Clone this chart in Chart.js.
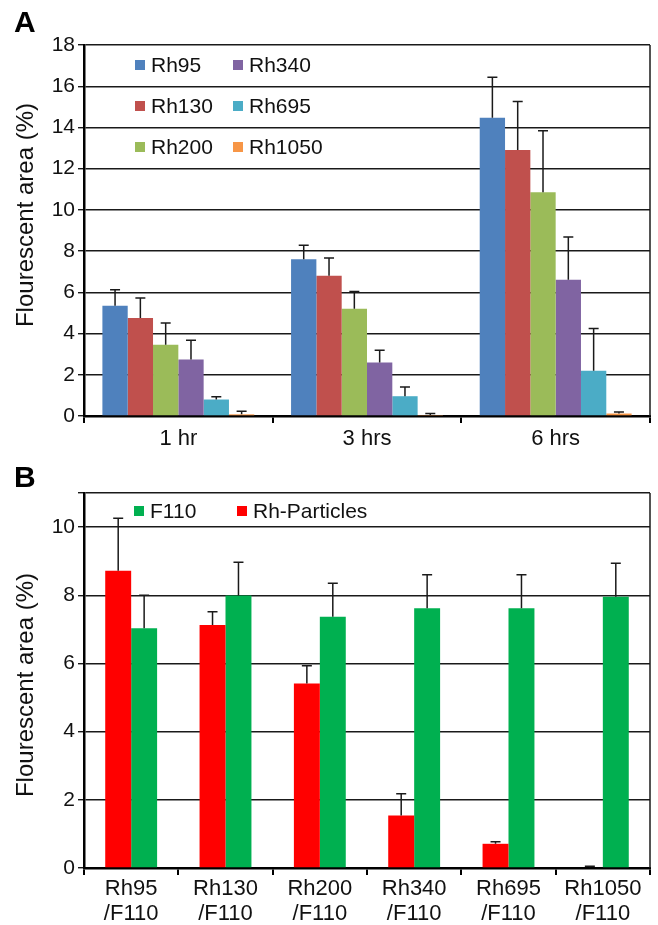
<!DOCTYPE html>
<html>
<head>
<meta charset="utf-8">
<script src="https://cdn.jsdelivr.net/npm/chart.js@4.4.1/dist/chart.umd.min.js"></script>
<style>
  html, body { margin: 0; padding: 0; background: #fff; }
  #wrap { width: 658px; height: 925px; position: relative; }
  canvas { display: block; }
  #chartB { margin-top: 1px; }
</style>
</head>
<body>
<div id="wrap">
  <canvas id="chartA" width="658" height="462"></canvas>
  <canvas id="chartB" width="658" height="462"></canvas>
</div>
<script>
// ---- panel A data ----
const timeLabels = ['1 hr', '3 hrs', '6 hrs'];
const rh95 = [5.35, 7.6, 14.47];
const rh95Err = [0.78, 0.69, 1.97];
const rh130 = [4.75, 6.8, 12.9];
const rh130Err = [0.97, 0.86, 2.36];
const rh200 = [3.46, 5.2, 10.86];
const rh200Err = [1.05, 0.84, 2.98];
const rh340 = [2.74, 2.6, 6.61];
const rh340Err = [0.93, 0.59, 2.07];
const rh695 = [0.8, 0.96, 2.2];
const rh695Err = [0.14, 0.45, 2.04];
const rh1050 = [0.08, 0.05, 0.12];
const rh1050Err = [0.15, 0.07, 0.08];
const ticksA = [0, 2, 4, 6, 8, 10, 12, 14, 16, 18];

// ---- panel B data ----
const pairLabels = [['Rh95', '/F110'], ['Rh130', '/F110'], ['Rh200', '/F110'], ['Rh340', '/F110'], ['Rh695', '/F110'], ['Rh1050', '/F110']];
const rhParticles = [8.72, 7.13, 5.41, 1.54, 0.71, 0.02];
const rhParticlesErr = [1.54, 0.39, 0.52, 0.64, 0.06, 0.03];
const f110 = [7.03, 7.99, 7.37, 7.62, 7.62, 7.96];
const f110Err = [0.97, 0.98, 0.98, 0.98, 0.98, 0.98];
const ticksB = [0, 2, 4, 6, 8, 10];

const FONT = '"Liberation Sans", Arial, Helvetica, sans-serif';

// one-sided error bars on top of each bar
const errorBars = {
  id: 'errorBars',
  afterDatasetsDraw(chart) {
    const ctx = chart.ctx;
    const yScale = chart.scales.y;
    ctx.save();
    ctx.strokeStyle = '#1a1a1a';
    ctx.lineWidth = 1.5;
    chart.data.datasets.forEach((ds, di) => {
      if (!ds.errors) return;
      chart.getDatasetMeta(di).data.forEach((bar, i) => {
        const top = yScale.getPixelForValue(ds.data[i] + ds.errors[i]);
        ctx.beginPath();
        ctx.moveTo(bar.x, bar.y);
        ctx.lineTo(bar.x, top);
        ctx.moveTo(bar.x - 5, top);
        ctx.lineTo(bar.x + 5, top);
        ctx.stroke();
      });
    });
    ctx.restore();
  }
};

// panel letter, y title, right border and in-plot legend
const decorations = {
  id: 'decorations',
  afterDraw(chart, args, opts) {
    const ctx = chart.ctx;
    const area = chart.chartArea;
    ctx.save();

    ctx.strokeStyle = '#1a1a1a';
    ctx.lineWidth = 1.5;
    ctx.beginPath();
    ctx.moveTo(area.right, area.top);
    ctx.lineTo(area.right, area.bottom);
    ctx.stroke();

    ctx.fillStyle = '#000';
    ctx.font = 'bold 30px ' + FONT;
    ctx.textAlign = 'left';
    ctx.textBaseline = 'alphabetic';
    ctx.fillText(opts.letter, 14, opts.letterY);

    ctx.save();
    ctx.translate(26, opts.titleY);
    ctx.rotate(-Math.PI / 2);
    ctx.font = '24px ' + FONT;
    ctx.textAlign = 'center';
    ctx.textBaseline = 'middle';
    ctx.fillStyle = '#111';
    ctx.fillText('Flourescent area (%)', 0, 0);
    ctx.restore();

    ctx.font = '21px ' + FONT;
    ctx.textBaseline = 'middle';
    opts.legend.forEach(item => {
      const ds = chart.data.datasets[item.index];
      const x = area.left + item.dx;
      const y = area.top + item.dy;
      ctx.fillStyle = ds.backgroundColor;
      ctx.fillRect(x - 5, y - 5, 10, 10);
      ctx.fillStyle = '#111';
      ctx.fillText(ds.label, x + 11, y + 1);
    });
    ctx.restore();
  }
};

function yScaleOptions(max, tickList) {
  return {
    min: 0,
    max: max,
    afterFit: scale => { scale.width = 84; },
    afterBuildTicks: scale => { scale.ticks = tickList.concat(max > tickList[tickList.length - 1] ? [max] : []).map(v => ({ value: v })); },
    ticks: {
      color: '#111',
      font: { family: FONT, size: 21 },
      padding: 3,
      callback: v => (tickList.includes(v) ? v : '')
    },
    grid: { color: '#1a1a1a', lineWidth: 1.4, tickLength: 6 },
    border: { color: '#000', width: 2.5 }
  };
}

function xScaleOptions(height, pad) {
  return {
    afterFit: scale => { scale.height = height; },
    ticks: {
      color: '#111',
      font: { family: FONT, size: 22, lineHeight: 1.12 },
      padding: pad,
      maxRotation: 0
    },
    grid: { drawOnChartArea: false, drawTicks: true, tickLength: 7, color: '#000', lineWidth: 2, offset: true },
    border: { color: '#000', width: 2.5 }
  };
}

function createChartA() {
  const colors = ['#4F81BD', '#C0504D', '#9BBB59', '#8064A2', '#4BACC6', '#F79646'];
  const names = ['Rh95', 'Rh130', 'Rh200', 'Rh340', 'Rh695', 'Rh1050'];
  const values = [rh95, rh130, rh200, rh340, rh695, rh1050];
  const errors = [rh95Err, rh130Err, rh200Err, rh340Err, rh695Err, rh1050Err];

  new Chart(document.getElementById('chartA').getContext('2d'), {
    type: 'bar',
    data: {
      labels: timeLabels,
      datasets: names.map((name, i) => ({
        label: name,
        data: values[i],
        errors: errors[i],
        backgroundColor: colors[i],
        borderWidth: 0,
        barPercentage: 1,
        categoryPercentage: 0.805
      }))
    },
    options: {
      responsive: false,
      animation: false,
      layout: { padding: { top: 45, right: 8, left: 0, bottom: 0 } },
      plugins: {
        legend: { display: false },
        tooltip: { enabled: false },
        decorations: {
          letter: 'A',
          letterY: 32,
          titleY: 215,
          legend: [
            { index: 0, dx: 56, dy: 20 },
            { index: 1, dx: 56, dy: 61 },
            { index: 2, dx: 56, dy: 102 },
            { index: 3, dx: 154, dy: 20 },
            { index: 4, dx: 154, dy: 61 },
            { index: 5, dx: 154, dy: 102 }
          ]
        }
      },
      scales: {
        x: xScaleOptions(46, 4),
        y: yScaleOptions(18, ticksA)
      }
    },
    plugins: [errorBars, decorations]
  });
}

function createChartB() {
  new Chart(document.getElementById('chartB').getContext('2d'), {
    type: 'bar',
    data: {
      labels: pairLabels,
      datasets: [
        {
          label: 'Rh-Particles',
          data: rhParticles,
          errors: rhParticlesErr,
          backgroundColor: '#FF0000',
          borderWidth: 0,
          barPercentage: 1,
          categoryPercentage: 0.55
        },
        {
          label: 'F110',
          data: f110,
          errors: f110Err,
          backgroundColor: '#00B050',
          borderWidth: 0,
          barPercentage: 1,
          categoryPercentage: 0.55
        }
      ]
    },
    options: {
      responsive: false,
      animation: false,
      layout: { padding: { top: 30, right: 8, left: 0, bottom: 0 } },
      plugins: {
        legend: { display: false },
        tooltip: { enabled: false },
        decorations: {
          letter: 'B',
          letterY: 24,
          titleY: 222,
          legend: [
            { index: 1, dx: 55, dy: 18 },
            { index: 0, dx: 158, dy: 18 }
          ]
        }
      },
      scales: {
        x: xScaleOptions(57, 2),
        y: yScaleOptions(11, ticksB)
      }
    },
    plugins: [errorBars, decorations]
  });
}

createChartA();
createChartB();
</script>
</body>
</html>
